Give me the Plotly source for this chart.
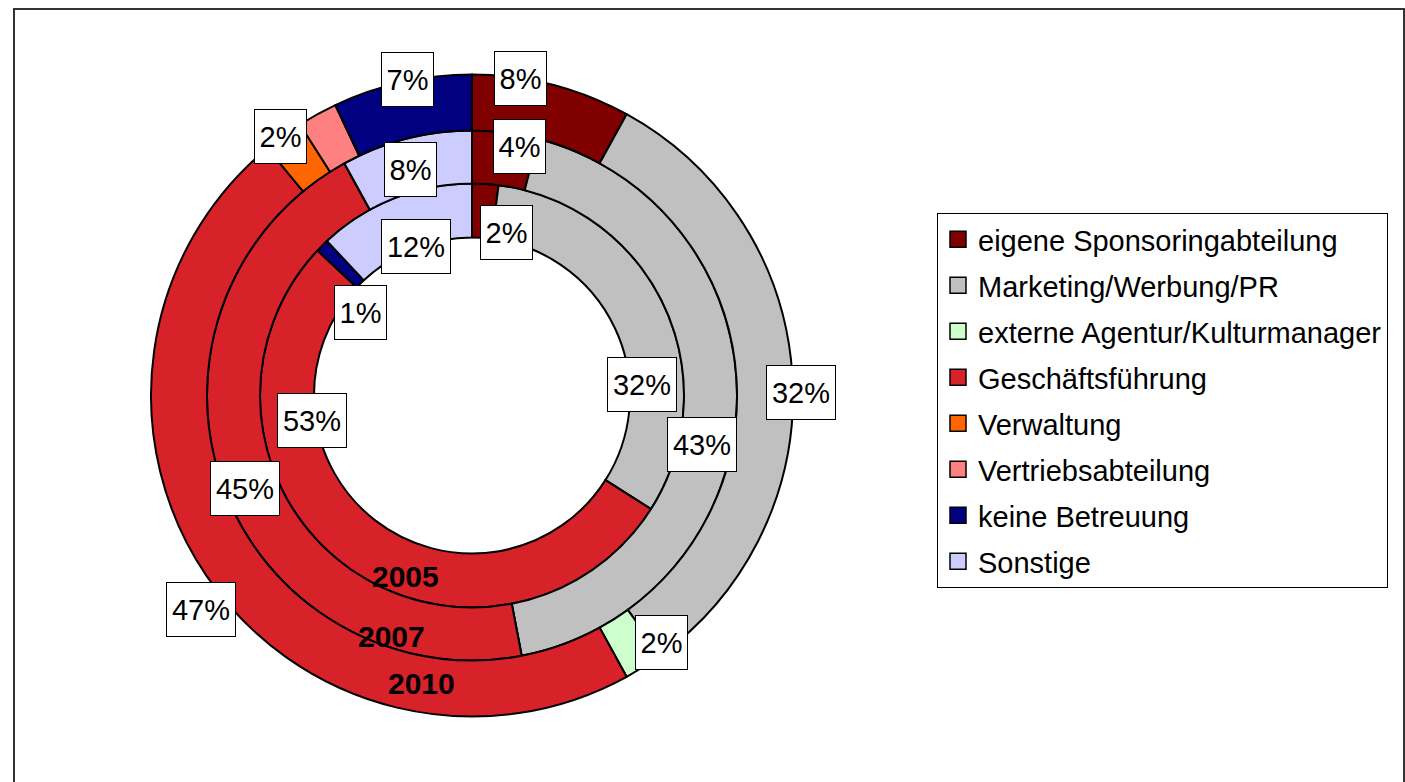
import plotly.graph_objects as go

# --- data -----------------------------------------------------------------
categories = [
    "eigene Sponsoringabteilung",
    "Marketing/Werbung/PR",
    "externe Agentur/Kulturmanager",
    "Geschäftsführung",
    "Verwaltung",
    "Vertriebsabteilung",
    "keine Betreuung",
    "Sonstige",
]
colors = ["#800000", "#C0C0C0", "#CCFFCC", "#D82229",
          "#FF6600", "#FF8080", "#000080", "#CCCCFF"]

years = ["2005", "2007", "2010"]
values_2005 = [2, 32, 0, 53, 0, 0, 1, 12]
values_2007 = [4, 43, 0, 45, 0, 0, 0, 8]
values_2010 = [8, 32, 2, 47, 2, 2, 7, 0]

# --- layout constants (pixels) -------------------------------------------
W, H = 1405, 782
CX, CY = 472, 395.5           # common centre of the rings
R_HOLE, R1, R2, R3 = 158, 212, 265, 321   # ring boundaries, inner -> outer
FONT = "Liberation Sans, Arial, sans-serif"

def px_x(x):
    return x / W

def px_y(y):
    return 1 - y / H

def ring_domain(r):
    return dict(x=[px_x(CX - r), px_x(CX + r)], y=[px_y(CY + r), px_y(CY - r)])

fig = go.Figure()

rings = [
    (values_2005, R1, R_HOLE / R1),
    (values_2007, R2, R1 / R2),
    (values_2010, R3, R2 / R3),
]
for vals, r, hole in rings:
    fig.add_trace(go.Pie(
        labels=categories,
        values=vals,
        marker=dict(colors=colors, line=dict(color="black", width=2)),
        hole=hole,
        domain=ring_domain(r),
        sort=False,
        direction="clockwise",
        rotation=0,
        textinfo="none",
        hoverinfo="label+percent",
        showlegend=False,
    ))

# legend entries as square swatches
for i, (name, col) in enumerate(zip(categories, colors)):
    fig.add_trace(go.Scatter(
        x=[None], y=[None], mode="markers", name=name,
        legendgroup=f"g{i}",
        marker=dict(symbol="square", size=16, color=col,
                    line=dict(color="black", width=1.5)),
        hoverinfo="skip",
    ))

# --- percentage labels (boxed) -------------------------------------------
# (ring values, category index, label centre in px)
label_spots = [
    (values_2005, 0, (506, 233)),
    (values_2005, 1, (642, 384)),
    (values_2005, 3, (312, 420)),
    (values_2005, 6, (360, 312)),
    (values_2005, 7, (416, 247)),
    (values_2007, 0, (519, 147)),
    (values_2007, 1, (702, 444)),
    (values_2007, 3, (245, 488)),
    (values_2007, 7, (410, 170)),
    (values_2010, 0, (520, 78)),
    (values_2010, 1, (801, 392)),
    (values_2010, 2, (661, 642)),
    (values_2010, 3, (201, 609)),
    (values_2010, 4, (280, 136)),
    (values_2010, 6, (408, 80)),
]
annotations = []
for vals, idx, (lx, ly) in label_spots:
    txt = f"{vals[idx]}%"
    annotations.append(dict(
        x=px_x(lx), y=px_y(ly), xref="paper", yref="paper",
        text=txt, showarrow=False,
        font=dict(family=FONT, size=29, color="black"),
        bgcolor="white", bordercolor="black", borderwidth=1, borderpad=3,
        width=62 if len(txt) > 2 else 45, height=47,
        xanchor="center", yanchor="middle",
    ))

# year labels on the rings
year_spots = [(405, 576), (391, 636), (421, 683)]
for yr, (lx, ly) in zip(years, year_spots):
    annotations.append(dict(
        x=px_x(lx), y=px_y(ly), xref="paper", yref="paper",
        text=f"<b>{yr}</b>", showarrow=False,
        font=dict(family=FONT, size=30, color="black"),
        xanchor="center", yanchor="middle",
    ))

fig.update_layout(
    width=W, height=H,
    margin=dict(l=0, r=0, t=0, b=0),
    paper_bgcolor="white", plot_bgcolor="white",
    font=dict(family=FONT, color="black"),
    xaxis=dict(visible=False, range=[0, 1]),
    yaxis=dict(visible=False, range=[0, 1]),
    legend=dict(
        x=px_x(937), y=px_y(213), xanchor="left", yanchor="top",
        bgcolor="white", bordercolor="black", borderwidth=1,
        font=dict(size=29, family=FONT),
        tracegroupgap=5.3,
    ),
    annotations=annotations,
    shapes=[dict(
        type="rect", xref="paper", yref="paper",
        x0=px_x(14), x1=px_x(1404), y0=-0.05, y1=px_y(9),
        line=dict(color="#333333", width=2), fillcolor="rgba(0,0,0,0)",
        layer="below",
    )],
)

fig.write_html("out.html")
